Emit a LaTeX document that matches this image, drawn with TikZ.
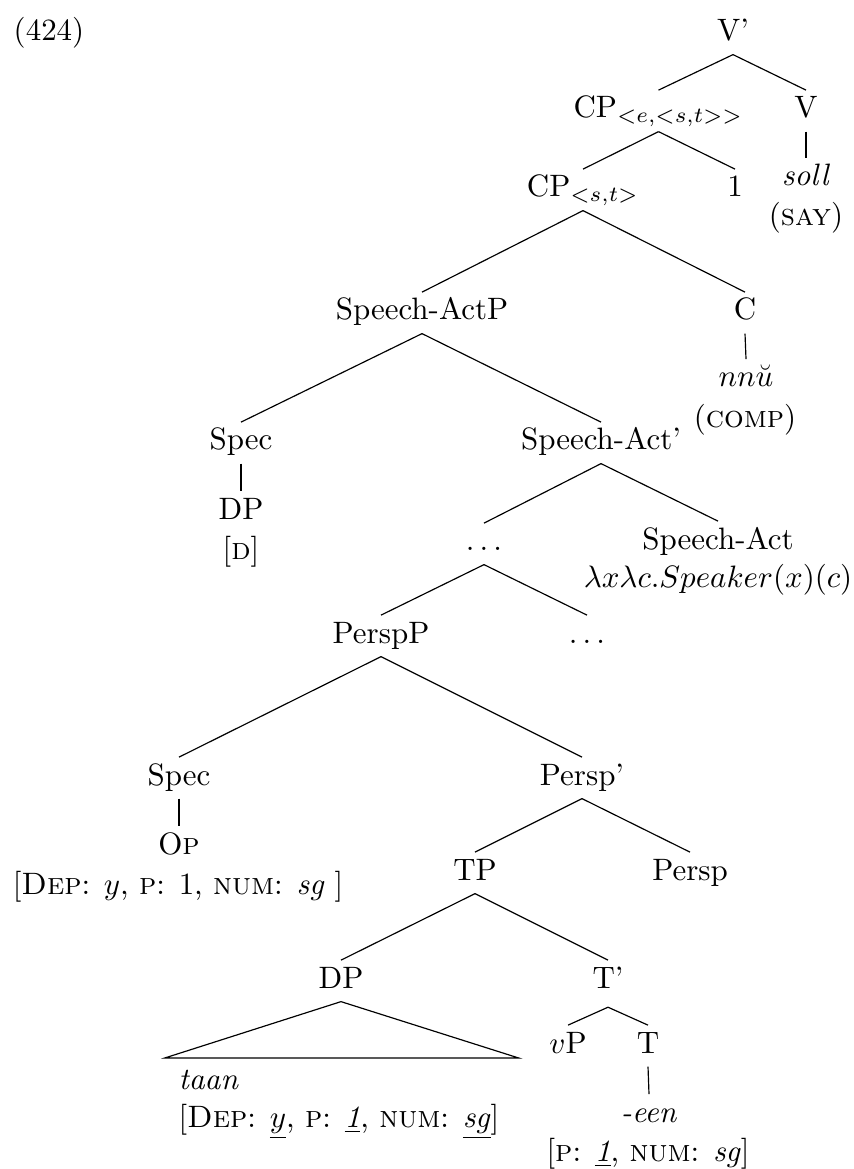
\documentclass[tikz,border=0pt]{standalone}
\begin{document}
\begin{tikzpicture}[x=0.323pt,y=-0.323pt,
  lbl/.style={anchor=base,inner xsep=0pt,inner ysep=1.8pt,text height=7pt,text depth=2.4pt},
  lblw/.style={lbl,anchor=base west},
  branch/.style={line width=0.38pt}]
\useasboundingbox (0,0) rectangle (853,1169);
% labels
\node[lbl] (ex) at (49,41) {(424)};
\node[lbl] (Vbar) at (733,41) {V'};
\node[lbl] (CPa) at (658.5,118) {CP$_{<e,<s,t>>}$};
\node[lbl] (V) at (806,118) {V};
\node[lbl] (soll) at (806,186) {\textit{soll}};
\node[lbl] (say) at (806,226) {(\textsc{say})};
\node[lbl] (CPb) at (583,197) {CP$_{<s,t>}$};
\node[lbl] (one) at (735,197) {1};
\node[lbl] (SAP) at (422,320) {Speech-ActP};
\node[lbl] (C) at (745,320) {C};
\node[lbl] (nnu) at (746,387) {$nn\breve{u}$};
\node[lbl] (comp) at (745,428) {(\textsc{comp})};
\node[lbl] (SpecA) at (241,450) {Spec};
\node[lbl] (SAbar) at (601,450) {Speech-Act'};
\node[lbl] (DPa) at (241,519) {DP};
\node[lbl] (Dfeat) at (241,560) {[\textsc{d}]};
\node[lbl] (dotsA) at (484,551) {$\ldots$};
\node[lbl] (SA) at (718,549) {Speech-Act};
\node[lbl] (lam) at (718,587) {$\lambda x\lambda c.Speaker(x)(c)$};
\node[lbl] (PerspP) at (381,643) {PerspP};
\node[lbl] (dotsB) at (587,643) {$\ldots$};
\node[lbl] (SpecB) at (179,785) {Spec};
\node[lbl] (Perspbar) at (582,785) {Persp'};
\node[lbl] (Op) at (179,854) {O\textsc{p}};
\node[lbl] (opfeat) at (178,894) {[\textsc{Dep}: $y$, \textsc{p}: 1, \textsc{num}: \textit{sg} ]};
\node[lbl] (TP) at (475,880) {TP};
\node[lbl] (Persp) at (690,880) {Persp};
\node[lbl] (DPb) at (341,988) {DP};
\node[lbl,text depth=4.2pt] (Tbar) at (608,988) {T'};
\coordinate (triL) at (164.7,1058);
\coordinate (triR) at (518.7,1058);
\node[lblw] (taan) at (178,1089) {\textit{taan}};
\node[lblw] (dpfeat) at (178,1127) {[\textsc{Dep}: \underline{$y$}, \textsc{p}: \underline{\textit{1}}, \textsc{num}: \underline{\textit{sg}}]};
\node[lbl] (vP) at (568,1053) {$v$P};
\node[lbl] (T) at (648,1053) {T};
\node[lbl] (een) at (649,1122) {\textit{-een}};
\node[lbl] (tfeat) at (648,1161) {[\textsc{p}: \underline{\textit{1}}, \textsc{num}: \textit{sg}]};
% branches
\draw[branch] (Vbar.south) -- (CPa.north);
\draw[branch] (Vbar.south) -- (V.north);
\draw[branch] (V.south) -- (soll.north);
\draw[branch] (CPa.south) -- (CPb.north);
\draw[branch] (CPa.south) -- (one.north);
\draw[branch] (CPb.south) -- (SAP.north);
\draw[branch] (CPb.south) -- (C.north);
\draw[branch] (C.south) -- (nnu.north);
\draw[branch] (SAP.south) -- (SpecA.north);
\draw[branch] (SAP.south) -- (SAbar.north);
\draw[branch] (SpecA.south) -- (DPa.north);
\draw[branch] (SAbar.south) -- (dotsA.north);
\draw[branch] (SAbar.south) -- (SA.north);
\draw[branch] (dotsA.south) -- (PerspP.north);
\draw[branch] (dotsA.south) -- (dotsB.north);
\draw[branch] (PerspP.south) -- (SpecB.north);
\draw[branch] (PerspP.south) -- (Perspbar.north);
\draw[branch] (SpecB.south) -- (Op.north);
\draw[branch] (Perspbar.south) -- (TP.north);
\draw[branch] (Perspbar.south) -- (Persp.north);
\draw[branch] (TP.south) -- (DPb.north);
\draw[branch] (TP.south) -- (Tbar.north);
\draw[branch] (DPb.south) -- (triL) -- (triR) -- cycle;
\draw[branch] (Tbar.south) -- (vP.north);
\draw[branch] (Tbar.south) -- (T.north);
\draw[branch] (T.south) -- (een.north);
\end{tikzpicture}
\end{document}
